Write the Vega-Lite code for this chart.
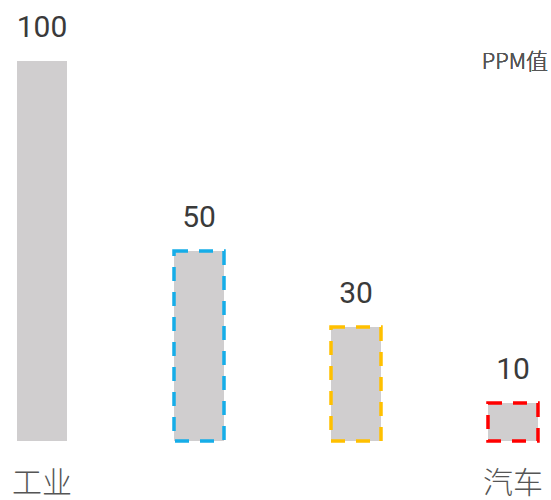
{
  "$schema": "https://vega.github.io/schema/vega-lite/v6.json",
  "width": 551,
  "height": 380,
  "autosize": "none",
  "padding": {"left": 2, "top": 61, "right": 0, "bottom": 59},
  "background": "white",
  "config": {"view": {"stroke": null}},
  "data": {
    "values": [
      {"key": 1, "label": "工业", "value": 100, "outline": "none"},
      {"key": 2, "label": "", "value": 50, "outline": "blue"},
      {"key": 3, "label": "", "value": 30, "outline": "yellow"},
      {"key": 4, "label": "汽车", "value": 10, "outline": "red"}
    ]
  },
  "encoding": {
    "x": {
      "field": "key",
      "type": "ordinal",
      "axis": null,
      "scale": {"paddingInner": 0.6815, "paddingOuter": 0.0956}
    }
  },
  "layer": [
    {
      "mark": {"type": "bar", "fill": "#d0cecf", "strokeWidth": 3.5, "strokeDash": [14, 11]},
      "encoding": {
        "y": {"field": "value", "type": "quantitative", "axis": null, "scale": {"domain": [0, 100], "nice": false}},
        "stroke": {
          "field": "outline",
          "type": "nominal",
          "legend": null,
          "scale": {"domain": ["none", "blue", "yellow", "red"], "range": ["transparent", "#16ade8", "#ffc000", "#ff0000"]}
        }
      }
    },
    {
      "mark": {"type": "text", "baseline": "alphabetic", "dy": -24, "font": "Roboto", "fontSize": 30, "color": "#3a3a3a"},
      "encoding": {
        "y": {"field": "value", "type": "quantitative"},
        "text": {"field": "value", "type": "quantitative"}
      }
    },
    {
      "mark": {"type": "text", "baseline": "middle", "dy": 43, "font": "Noto Sans CJK SC", "fontWeight": 300, "fontSize": 30, "color": "#555555"},
      "encoding": {
        "y": {"datum": 0, "type": "quantitative"},
        "text": {"field": "label"}
      }
    },
    {
      "mark": {"type": "text", "align": "right", "baseline": "middle", "dx": 35, "dy": 1, "font": "Noto Sans CJK SC", "fontWeight": 300, "fontSize": 22, "color": "#555555"},
      "encoding": {
        "x": {"datum": 4, "type": "ordinal"},
        "y": {"datum": 100, "type": "quantitative"},
        "text": {"value": "PPM值"}
      }
    }
  ]
}
